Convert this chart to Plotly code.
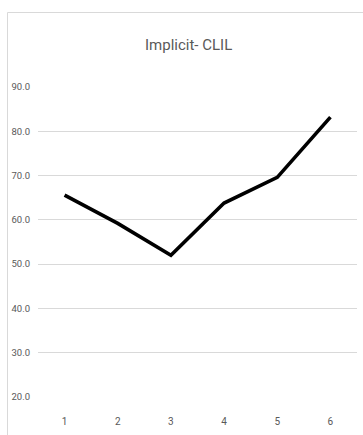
import plotly.graph_objects as go

# Session scores for the implicit CLIL group
sessions = ["1", "2", "3", "4", "5", "6"]
scores = [65.6, 59.2, 52.0, 63.8, 69.6, 83.2]
y_ticks = [20, 30, 40, 50, 60, 70, 80, 90]
title_text = "Implicit- CLIL"

W, H = 363, 435
ML, MR, MT, MB = 38, 6, 87, 38
plot_w = W - ML - MR
plot_h = H - MT - MB

FONT = "Roboto, Liberation Sans, sans-serif"
GREY = "#595959"

fig = go.Figure()
fig.add_trace(go.Scatter(
    x=sessions, y=scores, mode="lines",
    line=dict(color="#000000", width=3.6),
    hoverinfo="skip", showlegend=False,
))


def px_x(p):
    return (p - ML) / plot_w


def px_y(p):
    return (H - MB - p) / plot_h


fig.update_layout(
    width=W, height=H,
    margin=dict(l=ML, r=MR, t=MT, b=MB),
    paper_bgcolor="white", plot_bgcolor="white",
    font=dict(family=FONT, color=GREY, size=10),
    xaxis=dict(
        type="category", range=[-0.5, len(sessions) - 0.5],
        showgrid=False, zeroline=False, showline=False,
        ticks="", tickfont=dict(size=10, color=GREY),
        ticklabelstandoff=17,
    ),
    yaxis=dict(
        range=[20, 90], tickvals=y_ticks,
        ticktext=[f"{v:.1f}" for v in y_ticks],
        showgrid=True, gridcolor="#d9d9d9", gridwidth=1,
        zeroline=False, showline=False, ticks="",
        tickfont=dict(size=9.5, color=GREY),
        ticklabelstandoff=7,
    ),
    shapes=[dict(
        type="rect", xref="paper", yref="paper",
        x0=px_x(7.5), x1=px_x(370), y0=px_y(440), y1=px_y(12.5),
        line=dict(color="#d9d9d9", width=1), fillcolor="rgba(0,0,0,0)",
        layer="below",
    )],
    annotations=[dict(
        text=title_text, xref="paper", yref="paper",
        x=px_x(188), y=px_y(45), xanchor="center", yanchor="middle",
        showarrow=False, font=dict(family=FONT, size=15, color=GREY),
    )],
)

fig.write_html("out.html")
